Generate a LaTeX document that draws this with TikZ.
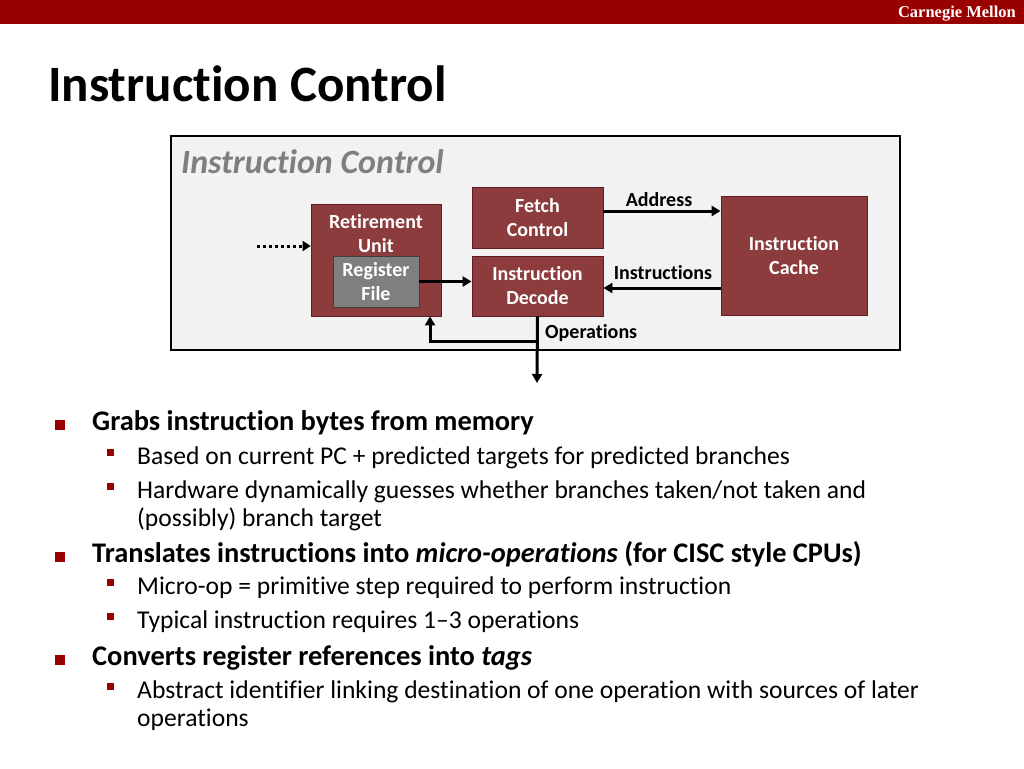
\documentclass[tikz,border=0pt]{standalone}
\usepackage{fontspec}
\setmainfont{Carlito}[Ligatures={NoCommon}]
\newfontfamily\cmuserif{Liberation Serif}
\usetikzlibrary{arrows.meta}
\definecolor{cmured}{RGB}{153,0,0}
\definecolor{boxred}{RGB}{140,60,60}
\definecolor{boxedge}{RGB}{90,30,30}
\definecolor{regray}{RGB}{127,127,127}
\definecolor{panel}{RGB}{242,242,242}
\definecolor{labelgray}{RGB}{127,127,127}
\tikzset{
  unitbox/.style={draw=boxedge, line width=0.8pt, fill=boxred, inner sep=0pt},
  regbox/.style={draw=black!75, line width=0.8pt, fill=regray, inner sep=0pt},
  boxtext/.style={text=white, font=\fontsize{20}{24}\selectfont\bfseries, align=center, inner sep=0pt},
  lbl/.style={font=\fontsize{20}{24}\selectfont\bfseries, inner sep=0pt},
  arr/.style={line width=3pt, -{Triangle[length=9pt,width=10pt]}},
  dotarr/.style={line width=3pt, dash pattern=on 3pt off 3pt, -{Triangle[length=8pt,width=10pt]}},
  lone/.style={anchor=base west, inner sep=0pt, font=\fontsize{28.4}{34}\selectfont\bfseries},
  ltwo/.style={anchor=base west, inner sep=0pt, font=\fontsize{25.6}{30}\selectfont},
  bone/.style={fill=cmured, minimum size=10pt, inner sep=0pt},
  btwo/.style={fill=cmured, minimum size=7pt, inner sep=0pt},
}
\begin{document}
\begin{tikzpicture}[x=1pt, y=-1pt]
\useasboundingbox (0,0) rectangle (1024,768);
% header
\fill[cmured] (0,0) rectangle (1024,24);
\node[anchor=base east, inner sep=0pt, text=white, font=\fontsize{16.5}{18}\selectfont\cmuserif\bfseries] (cmu) at (1016,18) {Carnegie Mellon};
% title
\node[anchor=base west, inner sep=0pt, font=\fontsize{51}{60}\selectfont\bfseries] (title) at (48,101) {Instruction Control};
% panel
\node[draw=black, line width=2pt, fill=panel, minimum width=729pt, minimum height=214pt, inner sep=0pt] (panel) at (535.5,243) {};
\node[anchor=base west, inner sep=0pt, text=labelgray, font=\fontsize{34}{38}\selectfont\bfseries\itshape] (ptitle) at (181,173) {Instruction Control};
% boxes
\node[unitbox, minimum width=130pt, minimum height=112pt] (ret) at (376,260) {};
\node[boxtext] (retlbl) at (376,234) {Retirement\\Unit};
\node[regbox, minimum width=86pt, minimum height=51pt, boxtext] (reg) at (376,281.5) {Register\\File};
\node[unitbox, minimum width=131pt, minimum height=61pt, boxtext] (fetch) at (537.5,217.5) {Fetch\\Control};
\node[unitbox, minimum width=131pt, minimum height=60pt, boxtext] (dec) at (537.5,286) {Instruction\\Decode};
\node[unitbox, minimum width=146pt, minimum height=119pt, boxtext] (cache) at (794,255.5) {Instruction\\Cache};
% connectors
\coordinate (dotstart) at (257,246);
\draw[dotarr] (dotstart) -- (ret.west |- dotstart);
\draw[arr] (reg.east) -- (dec.west |- reg.east);
\draw[arr] ([yshift=6.5pt]fetch.east) -- ([yshift=6.5pt]fetch.east -| cache.west);
\draw[arr] ([yshift=-2pt]dec.east -| cache.west) -- ([yshift=-2pt]dec.east);
\coordinate (out) at (537,383);
\coordinate (br) at (537,341);
\draw[arr] (dec.south) -- (out);
\draw[arr] (br) -| ([xshift=54pt]ret.south);
\node[lbl] (addr) at (659,200) {Address};
\node[lbl] (instrs) at (663,273) {Instructions};
\node[lbl, anchor=west] (ops) at (545,333) {Operations};
% bullets
\node[bone] (b1) at (60,425) {};
\node[lone] (t1) at (92,430) {Grabs instruction bytes from memory};
\node[btwo] (b11) at (110,452) {};
\node[ltwo] (t11) at (137,464) {Based on current PC + predicted targets for predicted branches};
\node[btwo] (b12) at (110,486) {};
\node[ltwo] (t12) at (137,498) {Hardware dynamically guesses whether branches taken/not taken and};
\node[ltwo] (t12b) at (137,526) {(possibly) branch target};
\node[bone] (b2) at (60,557) {};
\node[lone] (t2) at (92,562) {Translates instructions into \textit{micro-operations} (for CISC style CPUs)};
\node[btwo] (b21) at (110,582) {};
\node[ltwo] (t21) at (137,594) {Micro-op = primitive step required to perform instruction};
\node[btwo] (b22) at (110,616) {};
\node[ltwo] (t22) at (137,628) {Typical instruction requires 1–3 operations};
\node[bone] (b3) at (60,660) {};
\node[lone] (t3) at (92,665) {Converts register references into \textit{tags}};
\node[btwo] (b31) at (110,686) {};
\node[ltwo] (t31) at (137,698) {Abstract identifier linking destination of one operation with sources of later};
\node[ltwo] (t31b) at (137,726) {operations};
\end{tikzpicture}
\end{document}
